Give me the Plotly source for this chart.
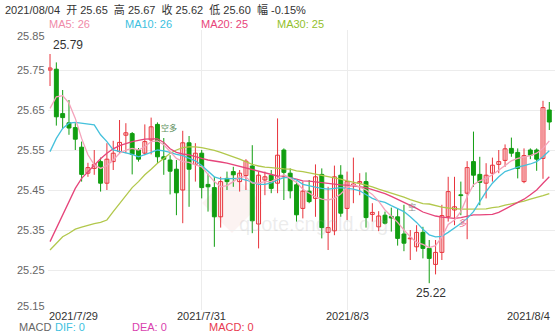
import plotly.graph_objects as go

# ---------------- data ----------------
idx = list(range(80))
open_ = [25.750, 25.752, 25.641, 25.618, 25.606, 25.557, 25.492, 25.504, 25.521, 25.467,
         25.521, 25.546, 25.587, 25.591, 25.550, 25.542, 25.575, 25.614, 25.533, 25.525,
         25.502, 25.450, 25.568, 25.514, 25.542, 25.464, 25.456, 25.383, 25.479, 25.496,
         25.471, 25.486, 25.510, 25.365, 25.475, 25.487, 25.467, 25.550, 25.492, 25.463,
         25.404, 25.447, 25.429, 25.489, 25.344, 25.348, 25.487, 25.404, 25.461, 25.467,
         25.471, 25.389, 25.358, 25.387, 25.384, 25.383, 25.340, 25.328, 25.308, 25.344,
         25.304, 25.264, 25.294, 25.383, 25.400, 25.438, 25.442, 25.521, 25.489, 25.467,
         25.492, 25.514, 25.524, 25.554, 25.544, 25.471, 25.550, 25.550, 25.529, 25.650]
high = [25.790, 25.769, 25.700, 25.675, 25.617, 25.571, 25.518, 25.550, 25.531, 25.567,
        25.573, 25.625, 25.617, 25.595, 25.555, 25.614, 25.631, 25.619, 25.580, 25.537,
        25.525, 25.598, 25.585, 25.567, 25.550, 25.491, 25.483, 25.483, 25.496, 25.508,
        25.500, 25.527, 25.562, 25.496, 25.496, 25.500, 25.629, 25.554, 25.504, 25.471,
        25.471, 25.475, 25.514, 25.504, 25.458, 25.511, 25.512, 25.496, 25.531, 25.492,
        25.494, 25.417, 25.397, 25.396, 25.406, 25.404, 25.413, 25.350, 25.362, 25.358,
        25.325, 25.325, 25.413, 25.483, 25.483, 25.471, 25.522, 25.596, 25.533, 25.517,
        25.531, 25.550, 25.564, 25.581, 25.554, 25.554, 25.554, 25.554, 25.673, 25.670]
low = [25.710, 25.611, 25.604, 25.588, 25.550, 25.471, 25.483, 25.488, 25.446, 25.450,
       25.500, 25.542, 25.542, 25.489, 25.521, 25.537, 25.539, 25.517, 25.488, 25.439,
       25.387, 25.367, 25.408, 25.471, 25.429, 25.396, 25.308, 25.356, 25.450, 25.458,
       25.446, 25.450, 25.342, 25.304, 25.437, 25.442, 25.442, 25.425, 25.429, 25.371,
       25.379, 25.417, 25.383, 25.329, 25.300, 25.337, 25.383, 25.375, 25.417, 25.437,
       25.356, 25.371, 25.347, 25.364, 25.346, 25.311, 25.297, 25.275, 25.296, 25.279,
       25.217, 25.239, 25.275, 25.371, 25.362, 25.387, 25.327, 25.458, 25.412, 25.429,
       25.471, 25.492, 25.508, 25.533, 25.479, 25.467, 25.527, 25.498, 25.478, 25.600]
close = [25.755, 25.633, 25.631, 25.605, 25.577, 25.489, 25.506, 25.514, 25.467, 25.527,
         25.542, 25.569, 25.593, 25.539, 25.527, 25.571, 25.608, 25.533, 25.527, 25.497,
         25.443, 25.568, 25.502, 25.542, 25.456, 25.458, 25.383, 25.471, 25.471, 25.488,
         25.492, 25.522, 25.373, 25.487, 25.483, 25.454, 25.537, 25.494, 25.448, 25.388,
         25.447, 25.421, 25.483, 25.356, 25.356, 25.483, 25.392, 25.471, 25.465, 25.471,
         25.381, 25.394, 25.385, 25.367, 25.380, 25.329, 25.317, 25.330, 25.344, 25.304,
         25.279, 25.294, 25.386, 25.446, 25.408, 25.436, 25.506, 25.487, 25.469, 25.487,
         25.512, 25.521, 25.553, 25.542, 25.504, 25.536, 25.537, 25.527, 25.656, 25.620]

ma5 = [25.654, 25.683, 25.686, 25.667, 25.629, 25.579, 25.538, 25.513, 25.504, 25.511,
       25.525, 25.542, 25.550, 25.554, 25.550, 25.558, 25.571, 25.573, 25.563, 25.546,
       25.529, 25.521, 25.519, 25.513, 25.508, 25.489, 25.471, 25.458, 25.461, 25.471,
       25.483, 25.483, 25.467, 25.467, 25.471, 25.471, 25.479, 25.488, 25.479, 25.469,
       25.452, 25.442, 25.433, 25.427, 25.425, 25.429, 25.440, 25.456, 25.463, 25.458,
       25.450, 25.439, 25.422, 25.400, 25.385, 25.369, 25.350, 25.333, 25.319, 25.314,
       25.306, 25.311, 25.333, 25.364, 25.375, 25.396, 25.433, 25.463, 25.473, 25.479,
       25.488, 25.500, 25.511, 25.523, 25.529, 25.532, 25.536, 25.542, 25.554, 25.573]
ma10 = [25.546, 25.579, 25.604, 25.617, 25.619, 25.617, 25.614, 25.613, 25.588, 25.571,
        25.550, 25.546, 25.542, 25.539, 25.533, 25.538, 25.544, 25.550, 25.548, 25.544,
        25.539, 25.536, 25.529, 25.523, 25.511, 25.496, 25.483, 25.478, 25.478, 25.479,
        25.479, 25.475, 25.469, 25.464, 25.464, 25.468, 25.475, 25.481, 25.481, 25.475,
        25.464, 25.460, 25.457, 25.454, 25.452, 25.454, 25.456, 25.454, 25.452, 25.448,
        25.439, 25.429, 25.423, 25.419, 25.411, 25.404, 25.396, 25.383, 25.369, 25.352,
        25.338, 25.333, 25.334, 25.344, 25.354, 25.366, 25.379, 25.396, 25.421, 25.446,
        25.467, 25.483, 25.496, 25.502, 25.507, 25.511, 25.515, 25.521, 25.533, 25.548]
ma20 = [25.321, 25.354, 25.388, 25.421, 25.454, 25.479, 25.496, 25.513, 25.528, 25.542,
        25.553, 25.561, 25.566, 25.571, 25.574, 25.577, 25.578, 25.578, 25.569, 25.553,
        25.544, 25.540, 25.538, 25.533, 25.529, 25.525, 25.523, 25.520, 25.517, 25.513,
        25.508, 25.504, 25.500, 25.496, 25.492, 25.488, 25.485, 25.483, 25.481, 25.477,
        25.473, 25.472, 25.470, 25.468, 25.467, 25.465, 25.463, 25.462, 25.460, 25.458,
        25.456, 25.451, 25.446, 25.441, 25.434, 25.427, 25.419, 25.413, 25.404, 25.395,
        25.389, 25.385, 25.382, 25.380, 25.379, 25.381, 25.385, 25.388, 25.388, 25.388,
        25.389, 25.394, 25.402, 25.411, 25.419, 25.427, 25.438, 25.450, 25.467, 25.483]
ma30 = [25.300, 25.317, 25.333, 25.342, 25.352, 25.357, 25.362, 25.366, 25.369, 25.375,
        25.396, 25.417, 25.438, 25.456, 25.471, 25.488, 25.502, 25.517, 25.529, 25.542,
        25.550, 25.556, 25.558, 25.558, 25.556, 25.553, 25.549, 25.544, 25.539, 25.533,
        25.527, 25.520, 25.514, 25.510, 25.507, 25.506, 25.504, 25.503, 25.502, 25.498,
        25.496, 25.493, 25.489, 25.486, 25.483, 25.480, 25.477, 25.473, 25.470, 25.466,
        25.462, 25.458, 25.452, 25.447, 25.442, 25.438, 25.432, 25.426, 25.421, 25.416,
        25.415, 25.411, 25.407, 25.405, 25.403, 25.402, 25.402, 25.402, 25.402, 25.403,
        25.406, 25.408, 25.412, 25.415, 25.419, 25.422, 25.427, 25.431, 25.436, 25.441]

date_tick_idx = [0, 24, 47, 79]
date_tick_labels = ["2021/7/29", "2021/7/31", "2021/8/3", "2021/8/4"]
y_tick_vals = [25.15, 25.25, 25.35, 25.45, 25.55, 25.65, 25.75, 25.85]
header_date = "2021/08/04"
change_pct = -0.15
signals = [(17, 25.607, "空多", "#5d8f5d"), (56, 25.41, "空", "#8a8a8a"), (64, 25.37, "多", "#f07090")]

# ---------------- styles ----------------
RED = "#e8333b"
GREEN = "#119e11"
C_MA5, C_MA10, C_MA20, C_MA30 = "#f4a3bb", "#45c1dc", "#e6457b", "#b2c84c"
FONT = "Liberation Sans, Arial, Noto Sans CJK SC, sans-serif"
L, R, T, B, W, H = 48, 0, 30, 22, 555, 332
PW, PH = W - L - R, H - T - B
NB = "\u00a0"


def px(x):
    return (x - L) / PW


def py(y):
    return (H - B - y) / PH


fig = go.Figure()

up = [i for i in idx if close[i] >= open_[i]]
dn = [i for i in idx if close[i] < open_[i]]

for group, col in ((up, RED), (dn, GREEN)):
    wx, wy = [], []
    for i in group:
        wx += [i, i, None]
        wy += [low[i], high[i], None]
    fig.add_trace(go.Scatter(x=wx, y=wy, mode="lines", line=dict(color=col, width=1),
                             hoverinfo="skip"))

fig.add_trace(go.Bar(x=up, y=[max(close[i] - open_[i], 0.0005) for i in up],
                     base=[open_[i] for i in up], width=0.62,
                     marker=dict(color="white", line=dict(color=RED, width=1))))
fig.add_trace(go.Bar(x=dn, y=[open_[i] - close[i] for i in dn],
                     base=[close[i] for i in dn], width=0.62,
                     marker=dict(color=GREEN, line=dict(color=GREEN, width=1))))

for arr, col in ((ma30, C_MA30), (ma20, C_MA20), (ma10, C_MA10), (ma5, C_MA5)):
    fig.add_trace(go.Scatter(x=idx, y=arr, mode="lines", line=dict(color=col, width=1.3)))

ann = []
# header
sp2 = NB + NB
hdr = (f"{header_date}{sp2}开 {open_[-1]:.2f}{sp2}高 {high[-1]:.2f}{sp2}收 {close[-1]:.2f}{sp2}"
       f"低 {low[-1]:.2f}{sp2}幅 {change_pct:.2f}%")
ann.append(dict(x=px(3), y=py(9), xref="paper", yref="paper", text=hdr, showarrow=False,
                xanchor="left", yanchor="middle", font=dict(size=11, color="#333", family=FONT)))
# MA legend
for xpos, name, arr, col in ((47, "MA5", ma5, "#f08aa8"), (123, "MA10", ma10, "#3cbfe0"),
                             (199, "MA20", ma20, "#e8447a"), (275, "MA30", ma30, "#93bf2c")):
    ann.append(dict(x=px(xpos), y=py(23.5), xref="paper", yref="paper",
                    text=f"{name}: {round(arr[-1])}", showarrow=False, xanchor="left",
                    yanchor="middle", font=dict(size=11, color=col, family=FONT)))
# MACD legend
for xpos, txt, col in ((17, "MACD", "#666"), (53, "DIF: 0", "#3cbfe0"),
                       (130, "DEA: 0", "#d93fae"), (207, "MACD: 0", "#e8384f")):
    ann.append(dict(x=px(xpos), y=py(327), xref="paper", yref="paper", text=txt,
                    showarrow=False, xanchor="left", yanchor="middle",
                    font=dict(size=11, color=col, family=FONT)))
# date labels
for k, (ti, tl) in enumerate(zip(date_tick_idx, date_tick_labels)):
    anchor = "left" if k == 0 else ("right" if k == len(date_tick_idx) - 1 else "center")
    shift = -3 if k == 0 else (3 if k == len(date_tick_idx) - 1 else 0)
    ann.append(dict(x=ti, y=py(316.3), xref="x", yref="paper", text=tl, showarrow=False,
                    xanchor=anchor, yanchor="middle", xshift=shift,
                    font=dict(size=11, color="#333", family=FONT)))
# y labels
for v in y_tick_vals:
    ys = 0
    if v == max(y_tick_vals):
        ys = -5.5
    elif v == min(y_tick_vals):
        ys = 4
    ann.append(dict(x=px(47), y=v, xref="paper", yref="y", text=f"{v:.2f}", showarrow=False,
                    xanchor="right", yanchor="middle", yshift=ys,
                    font=dict(size=11, color="#666", family=FONT)))
# max / min labels
imax = max(idx, key=lambda i: high[i])
imin = min(idx, key=lambda i: low[i])
ann.append(dict(x=imax, y=high[imax], xref="x", yref="y", text=f"{high[imax]:.2f}",
                showarrow=False, xanchor="left", yanchor="bottom", xshift=1,
                font=dict(size=12, color="#333", family=FONT)))
ann.append(dict(x=imin, y=low[imin], xref="x", yref="y", text=f"{low[imin]:.2f}",
                showarrow=False, xanchor="center", yanchor="top", xshift=2, yshift=-1,
                font=dict(size=12, color="#333", family=FONT)))
# signals
for si, sv, st, sc in signals:
    ann.append(dict(x=si, y=sv, xref="x", yref="y", text=st, showarrow=False,
                    xanchor="left", yanchor="middle", xshift=2,
                    font=dict(size=8, color=sc, family="Noto Sans CJK SC")))
# watermark
ann.append(dict(x=px(313), y=py(224), xref="paper", yref="paper", text="quote.cngold.org",
                showarrow=False, xanchor="center", yanchor="middle",
                font=dict(size=20, color="rgba(170,170,170,0.22)", family="Arial")))

cx, cy, r = px(232), py(203), 30
shapes = [dict(type="path", xref="paper", yref="paper", layer="below",
               path=f"M {cx} {cy + r / PH} L {cx + r / PW} {cy} L {cx} {cy - r / PH} L {cx - r / PW} {cy} Z",
               fillcolor="rgba(225,120,110,0.09)", line=dict(width=0))]

fig.update_layout(
    width=W, height=H, margin=dict(l=L, r=R, t=T, b=B, pad=0),
    paper_bgcolor="white", plot_bgcolor="white", showlegend=False,
    barmode="overlay", annotations=ann, shapes=shapes,
    xaxis=dict(range=[-0.32, 79.9], tickvals=date_tick_idx[1:-1], showticklabels=False,
               showgrid=True, gridcolor="#ececec", gridwidth=1, zeroline=False, showline=False,
               ticks="", fixedrange=True),
    yaxis=dict(range=[25.15, 25.85], tickvals=y_tick_vals, showticklabels=False,
               showgrid=True, gridcolor="#ececec", gridwidth=1, zeroline=False, showline=False,
               ticks="", fixedrange=True),
)

fig.write_html("out.html")
